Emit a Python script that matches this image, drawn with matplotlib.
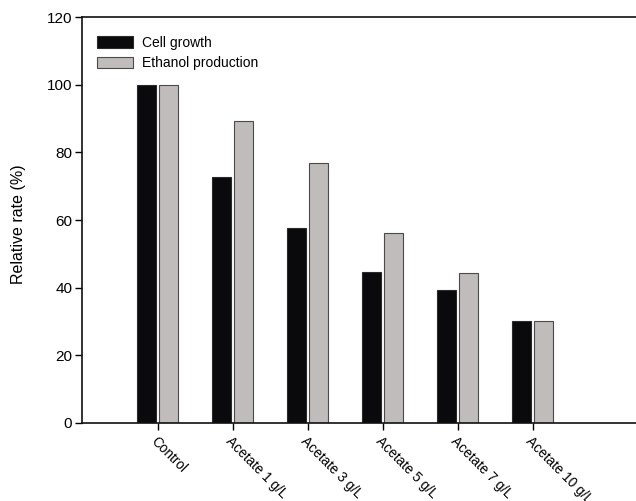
import numpy as np
import matplotlib
matplotlib.use("Agg")
import matplotlib.pyplot as plt

plt.rcParams['font.family'] = ['Liberation Sans', 'DejaVu Sans']

# Relative rates (%) for each acetate condition
conditions = ["Control", "Acetate 1 g/L", "Acetate 3 g/L", "Acetate 5 g/L",
              "Acetate 7 g/L", "Acetate 10 g/L"]
cell_growth = [100, 72.8, 57.8, 44.7, 39.2, 30.1]
ethanol_production = [100, 89.4, 76.8, 56.3, 44.4, 30.1]

x = np.arange(len(conditions))
w = 0.25
off = 0.147

fig = plt.figure(figsize=(6.36, 5.01), dpi=100)
ax = fig.add_axes([0.129, 0.1557, 0.871, 0.81])

ax.bar(x - off, cell_growth, w, color="#0a0a0c", edgecolor="#2a2a2a",
       linewidth=0.8, label="Cell growth")
ax.bar(x + off, ethanol_production, w, color="#c0bcbc", edgecolor="#4a4a4a",
       linewidth=0.8, label="Ethanol production")

ax.set_ylim(0, 120)
ax.set_xlim(-1.01, 6.38)
ax.set_yticks(np.arange(0, 121, 20))
ax.set_xticks(x)
ax.set_xticklabels(conditions, rotation=-45, ha="left", va="top",
                   rotation_mode="anchor", fontsize=9.8)
ax.tick_params(axis="y", labelsize=11, length=5, width=1, pad=2)
ax.tick_params(axis="x", length=5, width=1, pad=3)

ax.spines["right"].set_visible(False)
for s in ["left", "top", "bottom"]:
    ax.spines[s].set_linewidth(1.2)
    ax.spines[s].set_color("#111111")

ax.set_ylabel("Relative rate (%)", fontsize=11.5)
ax.yaxis.set_label_coords(-0.102, 0.49)

ax.legend(loc="upper left", bbox_to_anchor=(0.005, 0.985), frameon=False,
          fontsize=10, handlelength=2.6, handleheight=0.85, labelspacing=0.45,
          handletextpad=0.6, borderaxespad=0.5)

fig.savefig("out.png", dpi=100)
